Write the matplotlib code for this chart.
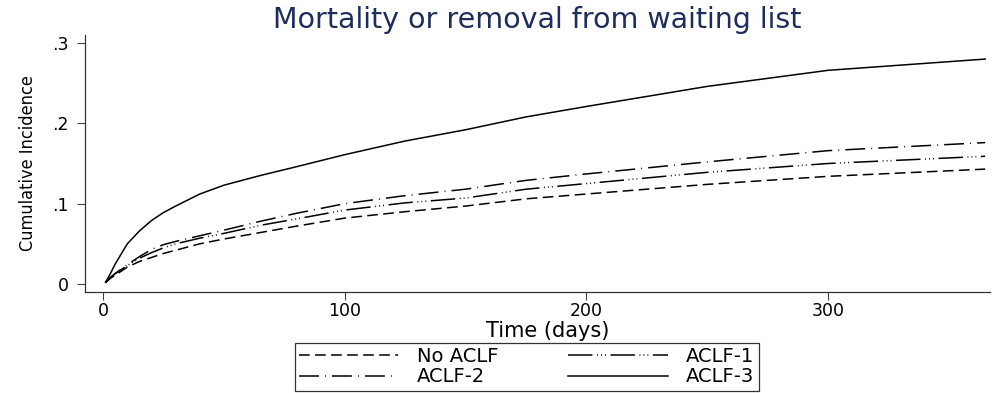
import matplotlib
matplotlib.use("Agg")
import matplotlib.pyplot as plt

# days and cumulative incidence
days = [1, 3, 5, 10, 15, 20, 25, 30, 40, 50, 65, 80, 100, 125, 150, 175, 200, 250, 300, 365]
no_aclf = [0.002, 0.007, 0.011, 0.021, 0.028, 0.033, 0.038, 0.042, 0.050, 0.056, 0.064, 0.072,
           0.082, 0.090, 0.097, 0.106, 0.112, 0.124, 0.134, 0.143]
aclf1 = [0.002, 0.008, 0.013, 0.023, 0.032, 0.039, 0.045, 0.050, 0.057, 0.063, 0.073, 0.081,
         0.092, 0.101, 0.107, 0.118, 0.125, 0.139, 0.150, 0.159]
aclf2 = [0.002, 0.008, 0.013, 0.024, 0.034, 0.043, 0.049, 0.053, 0.060, 0.067, 0.078, 0.088,
         0.100, 0.110, 0.118, 0.129, 0.137, 0.152, 0.166, 0.176]
aclf3 = [0.002, 0.013, 0.025, 0.050, 0.066, 0.079, 0.089, 0.097, 0.112, 0.123, 0.135, 0.146,
         0.161, 0.178, 0.192, 0.208, 0.221, 0.246, 0.266, 0.280]

series = [
    ("No ACLF", no_aclf, (0, (7, 3.5))),
    ("ACLF-1", aclf1, (0, (16, 3, 0.6, 2, 0.6, 2, 0.6, 3))),
    ("ACLF-2", aclf2, (0, (13, 4, 0.6, 4))),
    ("ACLF-3", aclf3, "solid"),
]

yticks = [0, 0.1, 0.2, 0.3]
ytick_labels = ["0", ".1", ".2", ".3"]
xticks = [0, 100, 200, 300]

plt.rcParams["font.family"] = ["DejaVu Sans"]

fig = plt.figure(figsize=(9.97, 3.93), dpi=100)
fig.patch.set_facecolor("white")
ax = fig.add_axes([0.0853, 0.257, 0.9077, 0.654])

lines = {}
for label, vals, ls in series:
    lines[label], = ax.plot(days, vals, color="black", linewidth=1.1, linestyle=ls, label=label)

ax.set_xlim(-7.5, 367)
ax.set_ylim(-0.01, 0.31)
ax.set_xticks(xticks)
ax.set_yticks(yticks)
ax.set_yticklabels(ytick_labels)
ax.tick_params(labelsize=12.5, length=5.5, width=0.8, color="#444444")
ax.tick_params(axis="y", pad=6)
ax.tick_params(axis="x", pad=2)
for side in ["top", "right"]:
    ax.spines[side].set_visible(False)
for side in ["left", "bottom"]:
    ax.spines[side].set_color("#333333")
    ax.spines[side].set_linewidth(0.9)

ax.set_title("Mortality or removal from waiting list", color="#1f2d5c", fontsize=20.5, pad=5)
ax.set_xlabel("Time (days)", fontsize=15)
ax.xaxis.set_label_coords(0.511, -0.112)
ax.set_ylabel("Cumulative Incidence", fontsize=13, fontstretch="condensed", labelpad=11)

# row-wise order like the original: No ACLF, ACLF-1 / ACLF-2, ACLF-3
order = ["No ACLF", "ACLF-2", "ACLF-1", "ACLF-3"]
leg = ax.legend(
    [lines[k] for k in order],
    order,
    loc="upper left",
    bbox_to_anchor=(0.232, -0.198),
    ncol=2,
    frameon=True,
    fancybox=False,
    edgecolor="black",
    fontsize=14,
    handlelength=5.1,
    handletextpad=0.95,
    columnspacing=3.6,
    borderpad=0.22,
    borderaxespad=0,
    labelspacing=0.06,
)
leg.get_frame().set_linewidth(0.9)

fig.savefig("out.png", dpi=100, facecolor="white")
